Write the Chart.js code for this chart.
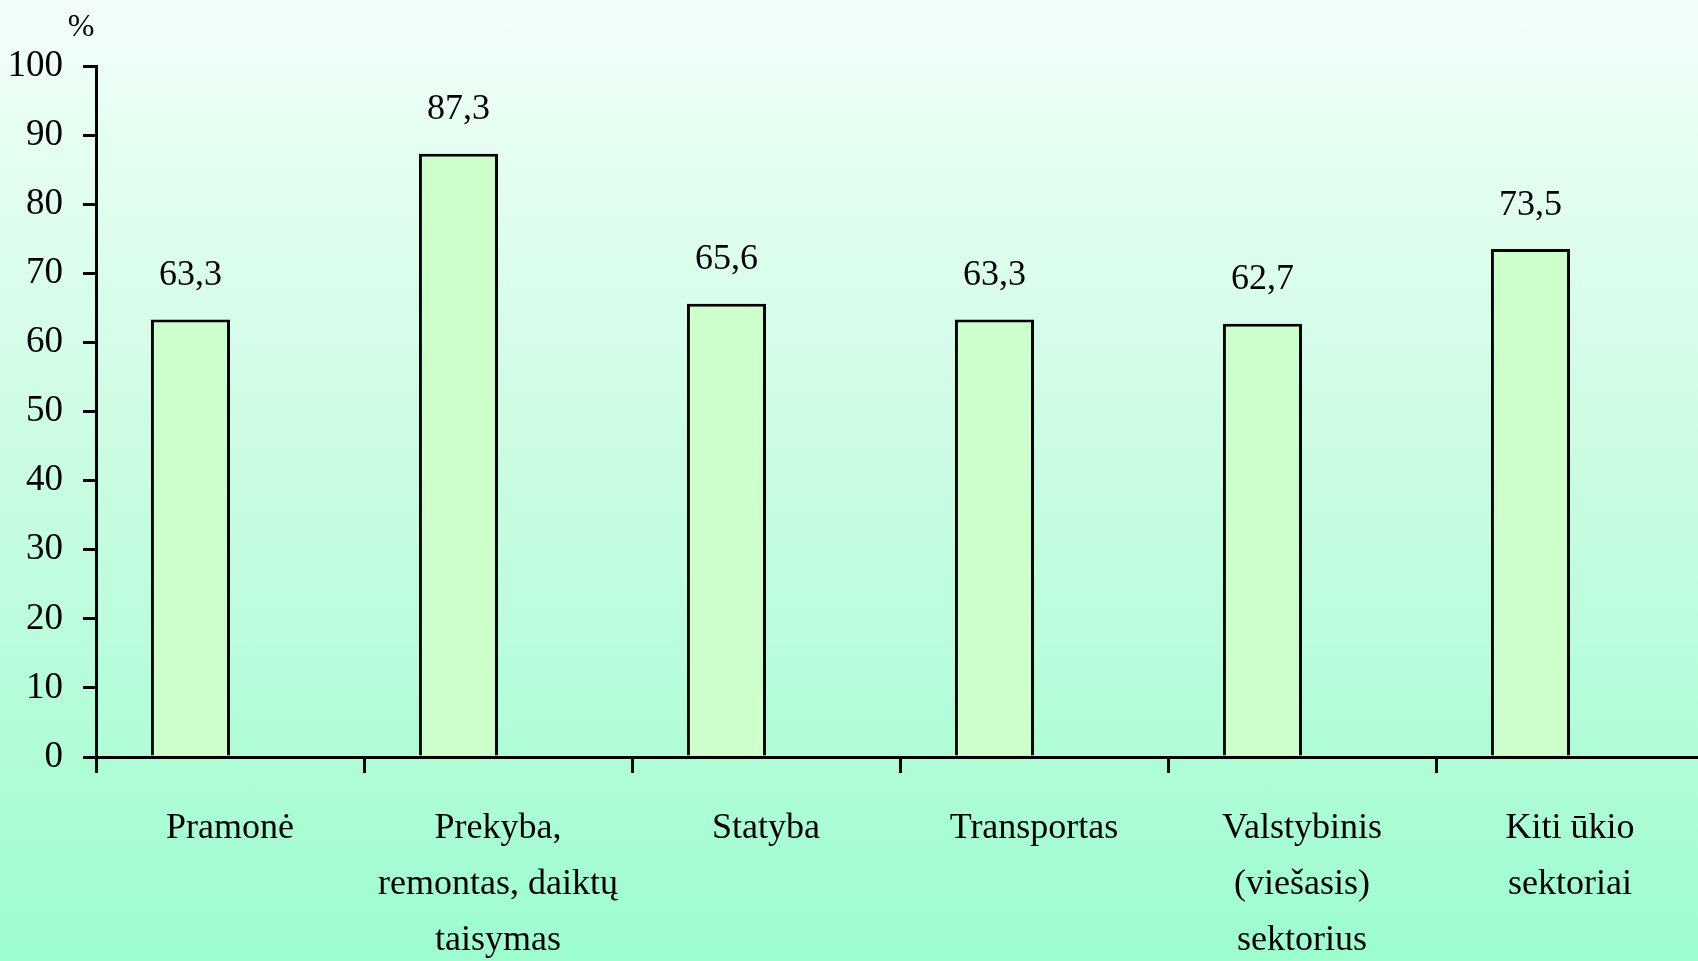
<!DOCTYPE html>
<html>
<head>
<meta charset="utf-8">
<script src="https://cdn.jsdelivr.net/npm/chart.js@4"></script>
<style>
  html, body { margin: 0; padding: 0; overflow: hidden; }
  body {
    width: 1698px; height: 961px;
    background: linear-gradient(to bottom, #f2fff9 0%, #cdfce4 45%, #9dfdcf 100%);
  }
</style>
</head>
<body>
<canvas id="myChart" width="1710" height="961"></canvas>
<script>
const ctx = document.getElementById('myChart');

const sektoriai = [
  'Pramonė',
  ['Prekyba,', 'remontas, daiktų', 'taisymas'],
  'Statyba',
  'Transportas',
  ['Valstybinis', '(viešasis)', 'sektorius'],
  ['Kiti ūkio', 'sektoriai']
];
const procentai = [63.3, 87.3, 65.6, 63.3, 62.7, 73.5];
const tuscia = [];   // antra serija be reikšmių (vieta grupėje)
const yTicks = [0, 10, 20, 30, 40, 50, 60, 70, 80, 90, 100];

const serif = '"Liberation Serif", "Times New Roman", serif';

// reiksmes virs stulpeliu + "%" virsuje
const etiketes = {
  id: 'etiketes',
  afterDatasetsDraw(chart) {
    const c = chart.ctx;
    c.save();
    c.fillStyle = '#000';
    c.font = '36px ' + serif;
    c.textAlign = 'center';
    c.textBaseline = 'middle';
    chart.getDatasetMeta(0).data.forEach((bar, i) => {
      c.fillText(procentai[i].toFixed(1).replace('.', ','), bar.x, bar.y - 44);
    });
    c.font = '32px ' + serif;
    c.fillText('%', chart.scales.y.left + 81, 28);
    c.restore();
  }
};

new Chart(ctx, {
  type: 'bar',
  data: {
    labels: sektoriai,
    datasets: [{
      data: procentai,
      backgroundColor: '#ccffcc',
      borderColor: '#000',
      borderWidth: 3,
      borderSkipped: 'bottom'
    }, {
      data: tuscia
    }]
  },
  options: {
    responsive: false,
    animation: false,
    categoryPercentage: 0.59,
    barPercentage: 1,
    layout: { padding: { left: 0, top: 66, right: 6, bottom: 0 } },
    plugins: { legend: { display: false }, tooltip: { enabled: false } },
    scales: {
      x: {
        grid: { drawOnChartArea: false, drawTicks: true, tickLength: 16, color: '#000', lineWidth: 3, offset: true },
        border: { color: '#000', width: 3 },
        ticks: {
          color: '#000',
          font: { family: serif, size: 36, lineHeight: 1.56 },
          padding: 27,
          maxRotation: 0,
          autoSkip: false
        },
        afterFit(scale) { scale.height = 961 - 757; }
      },
      y: {
        min: 0,
        max: 100,
        afterBuildTicks(scale) { scale.ticks = yTicks.map(v => ({ value: v })); },
        grid: { drawOnChartArea: false, drawTicks: true, tickLength: 13, color: '#000', lineWidth: 3 },
        border: { color: '#000', width: 3 },
        ticks: {
          color: '#000',
          font: { family: serif, size: 37 },
          padding: 20
        },
        afterFit(scale) { scale.width = 96; }
      }
    }
  },
  plugins: [etiketes]
});
</script>
</body>
</html>
